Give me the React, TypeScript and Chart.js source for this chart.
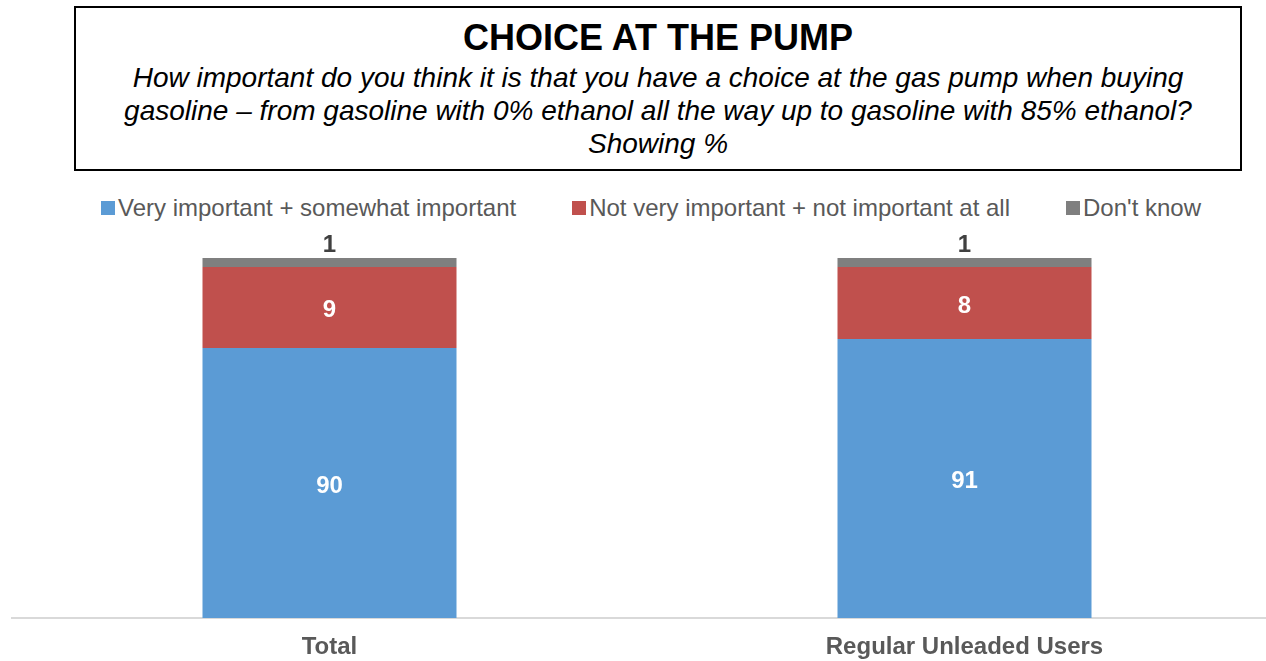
import React, { useEffect, useRef } from "react";
import { Chart, registerables } from "chart.js";

Chart.register(...registerables);

const categories = ["Total", "Regular Unleaded Users"];
const seriesNames = [
  "Very important + somewhat important",
  "Not very important + not important at all",
  "Don't know",
];
const veryImportant = [90, 91];
const notImportant = [9, 8];
const dontKnow = [1, 1];
const yMin = 60;
const yMax = 100;

const colors = ["#5B9BD5", "#C0504D", "#7F7F7F"];
const FONT = "'Liberation Sans', Arial, sans-serif";

const labelPlugin = {
  id: "segLabels",
  afterDatasetsDraw(chart: any) {
    const ctx = chart.ctx;
    const area = chart.chartArea;
    ctx.save();
    ctx.font = `bold 24px ${FONT}`;
    ctx.textAlign = "center";
    ctx.textBaseline = "middle";
    chart.data.datasets.forEach((ds: any, di: number) => {
      const meta = chart.getDatasetMeta(di);
      meta.data.forEach((el: any, i: number) => {
        const v = ds.data[i];
        const props = el.getProps(["x", "y", "base"], true);
        const top = Math.max(props.y, area.top);
        const bottom = Math.min(props.base, area.bottom);
        if (di === 2) {
          ctx.fillStyle = "#404040";
          ctx.fillText(String(v), props.x, top - 13);
        } else {
          ctx.fillStyle = "#FFFFFF";
          ctx.fillText(String(v), props.x, (top + bottom) / 2 + 3);
        }
      });
    });
    ctx.restore();
  },
};

export default function App() {
  const ref = useRef<HTMLCanvasElement | null>(null);
  useEffect(() => {
    if (!ref.current) return;
    const seriesData = [veryImportant, notImportant, dontKnow];
    const chart = new Chart(ref.current, {
      type: "bar",
      data: {
        labels: categories,
        datasets: seriesNames.map((name, i) => ({
          label: name,
          data: seriesData[i],
          backgroundColor: colors[i],
          borderWidth: 0,
          categoryPercentage: 1,
          barPercentage: 0.4,
        })),
      },
      options: {
        animation: false,
        responsive: false,
        maintainAspectRatio: false,
        devicePixelRatio: 1,
        layout: { padding: { top: 33, left: 12, right: 18, bottom: 0 } },
        plugins: {
          legend: { display: false },
          tooltip: { enabled: false },
          title: { display: false },
        },
        scales: {
          x: {
            stacked: true,
            grid: { display: false, drawTicks: false },
            border: { display: true, color: "#D9D9D9", width: 2 },
            ticks: {
              color: "#595959",
              font: { family: FONT, size: 24, weight: "bold" },
              padding: 15,
              maxRotation: 0,
            },
            afterFit: (scale: any) => {
              scale.height = 43;
            },
          },
          y: {
            stacked: true,
            display: false,
            min: yMin,
            max: yMax,
          },
        },
      },
      plugins: [labelPlugin],
    });
    return () => chart.destroy();
  }, []);

  return (
    <div
      style={{
        position: "fixed",
        left: 0,
        top: 0,
        width: 1266,
        height: 661,
        overflow: "hidden",
        background: "#FFFFFF",
        fontFamily: FONT,
      }}
    >
      <div
        style={{
          position: "absolute",
          left: 74,
          top: 6,
          width: 1168,
          height: 165,
          boxSizing: "border-box",
          border: "2px solid #000",
          textAlign: "center",
          color: "#000",
          whiteSpace: "nowrap",
        }}
      >
        <div
          style={{
            fontWeight: "bold",
            fontSize: 36,
            lineHeight: "40px",
            marginTop: 10,
            marginBottom: 3,
          }}
        >
          CHOICE AT THE PUMP
        </div>
        <div style={{ fontStyle: "italic", fontSize: 28, lineHeight: "33px" }}>
          How important do you think it is that you have a choice at the gas pump when buying
          <br />
          gasoline – from gasoline with 0% ethanol all the way up to gasoline with 85% ethanol?
          <br />
          Showing %
        </div>
      </div>
      <div
        style={{
          position: "absolute",
          left: 0,
          width: 1302,
          top: 193,
          height: 30,
          display: "flex",
          justifyContent: "center",
          alignItems: "center",
          gap: 56,
          color: "#595959",
          fontSize: 24,
          whiteSpace: "nowrap",
        }}
      >
        {seriesNames.map((name, i) => (
          <div key={name} style={{ display: "flex", alignItems: "center" }}>
            <span
              style={{
                display: "inline-block",
                width: 14,
                height: 14,
                background: colors[i],
                marginRight: 3,
              }}
            />
            <span>{name}</span>
          </div>
        ))}
      </div>
      <canvas
        ref={ref}
        width={1300}
        height={436}
        style={{ position: "absolute", left: 0, top: 225, width: 1300, height: 436 }}
      />
    </div>
  );
}
